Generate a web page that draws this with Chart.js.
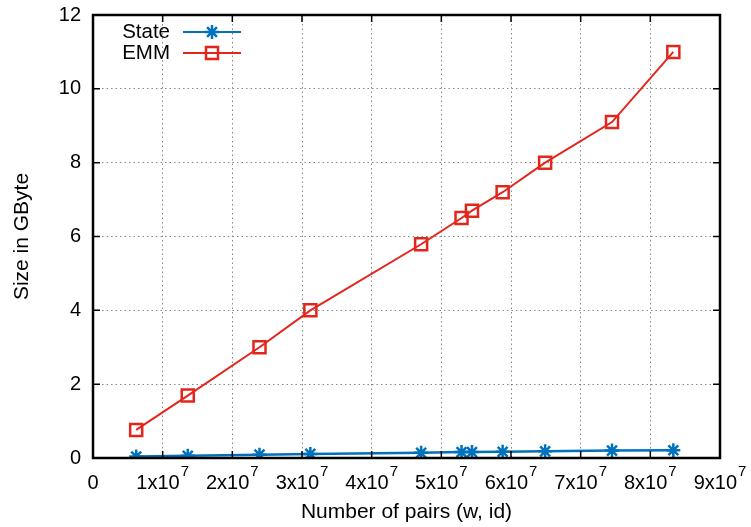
<!DOCTYPE html>
<html>
<head>
<meta charset="utf-8">
<script src="https://cdn.jsdelivr.net/npm/chart.js@4.4.0/dist/chart.umd.min.js"></script>
<style>
  body { margin: 0; background: #fff; }
  #wrap { width: 751px; height: 527px; }
</style>
</head>
<body>
<div id="wrap"><canvas id="myChart" width="751" height="527"></canvas></div>
<script>
// values
const pairs = [6.2e6, 1.36e7, 2.39e7, 3.12e7, 4.71e7, 5.29e7, 5.44e7, 5.88e7, 6.49e7, 7.45e7, 8.33e7];
const emmSize = [0.76, 1.69, 3.0, 4.0, 5.79, 6.5, 6.7, 7.2, 8.0, 9.1, 11.0];
const stateSize = [0.04, 0.06, 0.09, 0.11, 0.14, 0.16, 0.16, 0.17, 0.18, 0.2, 0.21];
const xTicks = [0, 1e7, 2e7, 3e7, 4e7, 5e7, 6e7, 7e7, 8e7, 9e7];
const yTicks = [0, 2, 4, 6, 8, 10, 12];

const FONT = '"Liberation Sans", Arial, sans-serif';
const blue = '#0072bd';
const red = '#e3261c';

const toXY = (xs, ys) => xs.map((x, i) => ({ x: x, y: ys[i] }));

// gnuplot style frame, ticks, labels and key
const gnuplotLook = {
  id: 'gnuplotLook',
  afterDatasetsDraw(chart) {
    const ctx = chart.ctx;
    const a = chart.chartArea;
    const xs = chart.scales.x, ys = chart.scales.y;
    ctx.save();
    // tick marks (in and mirrored)
    ctx.strokeStyle = '#000';
    ctx.lineWidth = 1.5;
    xTicks.forEach(v => {
      const px = xs.getPixelForValue(v);
      ctx.beginPath();
      ctx.moveTo(px, a.bottom); ctx.lineTo(px, a.bottom - 7);
      ctx.moveTo(px, a.top); ctx.lineTo(px, a.top + 7);
      ctx.stroke();
    });
    yTicks.forEach(v => {
      const py = ys.getPixelForValue(v);
      ctx.beginPath();
      ctx.moveTo(a.left, py); ctx.lineTo(a.left + 7, py);
      ctx.moveTo(a.right, py); ctx.lineTo(a.right - 7, py);
      ctx.stroke();
    });
    // frame
    ctx.lineWidth = 2.5;
    ctx.strokeRect(a.left, a.top, a.right - a.left, a.bottom - a.top);

    // y tick labels
    ctx.fillStyle = '#000';
    ctx.font = '20px ' + FONT;
    ctx.textAlign = 'right';
    ctx.textBaseline = 'middle';
    yTicks.forEach(v => {
      ctx.fillText(String(v), a.left - 12, ys.getPixelForValue(v));
    });
    // x tick labels with exponent
    xTicks.forEach(v => {
      const px = xs.getPixelForValue(v);
      const ty = a.bottom + 25;
      if (v === 0) {
        ctx.textAlign = 'center';
        ctx.font = '20px ' + FONT;
        ctx.fillText('0', px, ty);
        return;
      }
      const base = (v / 1e7) + 'x10';
      ctx.font = '20px ' + FONT;
      const w1 = ctx.measureText(base).width;
      ctx.font = '15px ' + FONT;
      const w2 = ctx.measureText('7').width;
      const start = px - (w1 + w2 + 1) / 2;
      ctx.textAlign = 'left';
      ctx.font = '20px ' + FONT;
      ctx.fillText(base, start, ty);
      ctx.font = '15px ' + FONT;
      ctx.fillText('7', start + w1 + 1, ty - 11);
    });
    // axis titles
    ctx.font = '21px ' + FONT;
    ctx.textAlign = 'center';
    ctx.fillText('Number of pairs (w, id)', (a.left + a.right) / 2 + 0, a.bottom + 54);
    ctx.save();
    ctx.translate(22, (a.top + a.bottom) / 2);
    ctx.rotate(-Math.PI / 2);
    ctx.fillText('Size in GByte', 0, 0);
    ctx.restore();

    // key
    chart.data.datasets.forEach((ds, i) => {
      const ky = a.top + 17 + i * 21;
      ctx.textAlign = 'right';
      ctx.fillStyle = '#000';
      ctx.font = '20.5px ' + FONT;
      ctx.fillText(ds.label, a.left + 77, ky);
      ctx.strokeStyle = ds.borderColor;
      ctx.fillStyle = 'rgba(0,0,0,0)';
      ctx.lineWidth = 2;
      ctx.beginPath();
      ctx.moveTo(a.left + 90, ky); ctx.lineTo(a.left + 148, ky);
      ctx.stroke();
      ctx.lineWidth = ds.pointBorderWidth;
      Chart.helpers.drawPoint(ctx, {
        pointStyle: ds.pointStyle, radius: ds.pointRadius, borderWidth: ds.pointBorderWidth, rotation: 0
      }, a.left + 119, ky);
    });
    ctx.restore();
  }
};

new Chart(document.getElementById('myChart').getContext('2d'), {
  type: 'line',
  data: {
    datasets: [{
      label: 'State',
      data: toXY(pairs, stateSize),
      borderColor: blue,
      backgroundColor: 'rgba(0,0,0,0)',
      borderWidth: 2.5,
      pointStyle: 'star',
      pointRadius: 7,
      pointBorderWidth: 2.5,
      pointBorderColor: blue,
      fill: false
    }, {
      label: 'EMM',
      data: toXY(pairs, emmSize),
      borderColor: red,
      backgroundColor: 'rgba(0,0,0,0)',
      borderWidth: 2,
      pointStyle: 'rect',
      pointRadius: 8.5,
      pointBorderWidth: 2.5,
      pointBorderColor: red,
      pointBackgroundColor: 'rgba(0,0,0,0)',
      fill: false
    }]
  },
  options: {
    responsive: false,
    animation: false,
    layout: { padding: { left: 93, top: 15, right: 31, bottom: 69 } },
    plugins: { legend: { display: false }, tooltip: { enabled: false } },
    scales: {
      x: {
        type: 'linear', min: 0, max: 9e7,
        afterBuildTicks: s => { s.ticks = xTicks.map(v => ({ value: v })); },
        ticks: { display: false },
        grid: { color: '#888', lineWidth: 1, drawTicks: false },
        border: { display: false, dash: [1.5, 3] }
      },
      y: {
        min: 0, max: 12,
        afterBuildTicks: s => { s.ticks = yTicks.map(v => ({ value: v })); },
        ticks: { display: false },
        grid: { color: '#888', lineWidth: 1, drawTicks: false },
        border: { display: false, dash: [1.5, 3] }
      }
    }
  },
  plugins: [gnuplotLook]
});
</script>
</body>
</html>
